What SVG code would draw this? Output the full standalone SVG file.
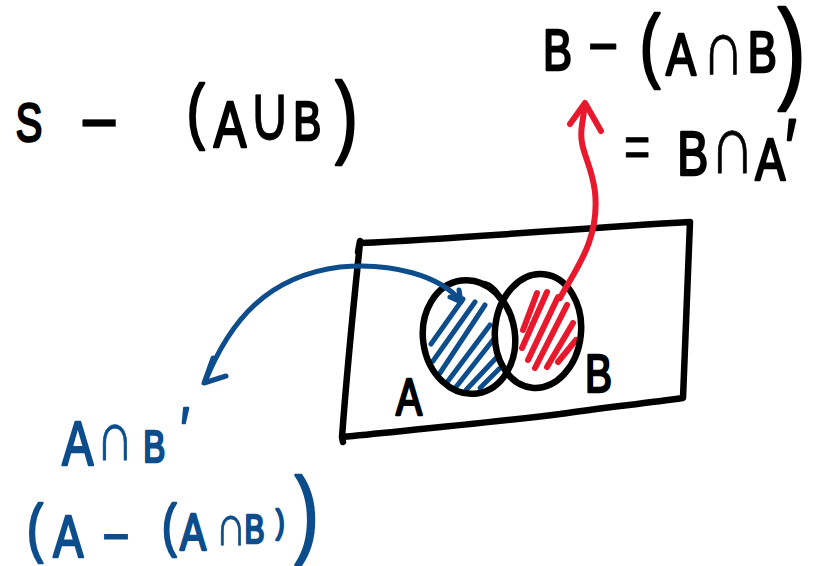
<svg xmlns="http://www.w3.org/2000/svg" width="828" height="566" viewBox="0 0 828 566">
<style>
.hw{font-family:"Liberation Sans","DejaVu Sans",sans-serif;stroke-width:2.6;stroke-linejoin:round}
.k{fill:#000;stroke:#000}
.bl{fill:#0d4d8c;stroke:#0d4d8c}
.op{stroke-width:0.8}
.ln{fill:none;stroke-linecap:round;stroke-linejoin:round}
.blk{stroke:#000;stroke-width:6.5}
.blu{stroke:#0d4d8c;stroke-width:5}
.red{stroke:#e8192c;stroke-width:6}
</style>
<rect width="828" height="566" fill="#fff"/>

<g id="universe">
<path class="ln blk" d="M360,243 C470,238 580,228 690,222 C688,280 685,340 683,398 C640,404 600,408 560,414 C480,424 410,430 342,437 C347,370 354,300 360,243 M358,252 L360,241 M342,437 L343,442"/>
</g>

<g id="setA">
<g class="ln blu">
<line x1="431" y1="344" x2="463" y2="299"/>
<line x1="433" y1="361" x2="475" y2="302"/>
<line x1="440" y1="373" x2="485" y2="305"/>
<line x1="448" y1="381" x2="490" y2="325"/>
<line x1="456" y1="387" x2="493" y2="340"/>
<line x1="466" y1="390" x2="497" y2="357"/>
<line x1="480" y1="388" x2="499" y2="369"/>
</g>
<ellipse class="ln blk" cx="469" cy="337" rx="46" ry="57" transform="rotate(-8 469 337)"/>
<path class="ln blk" d="M484,284 C492,286 496,292 500,298"/>
<text class="hw k" x="528" y="415" font-size="52" transform="scale(0.75 1)">A</text>
</g>

<g id="setB">
<g class="ln red">
<line x1="523" y1="330" x2="537" y2="293"/>
<line x1="522" y1="348" x2="547" y2="292"/>
<line x1="528" y1="360" x2="558" y2="297"/>
<line x1="535" y1="368" x2="567" y2="305"/>
<line x1="547" y1="367" x2="573" y2="323"/>
<line x1="558" y1="362" x2="576" y2="340"/>
</g>
<ellipse class="ln blk" cx="538" cy="331" rx="43" ry="57" transform="rotate(6 538 331)"/>
<text class="hw k" x="780" y="392" font-size="54" transform="scale(0.75 1)">B</text>
</g>

<g id="connectors">
<path class="ln blu" d="M205,382 C230,320 268,276 340,267 C392,262 440,276 461,301"/>
<path class="ln blu" d="M450,297 L461,302 L459,290"/>
<path class="ln blu" d="M213,358 L204,383 L226,376"/>
<path class="ln red" d="M560,298 C575,270 600,240 595,192 C591,160 578,150 582,125 L585,104"/>
<path class="ln red" d="M570,124 L585,103 L601,131"/>
</g>

<g id="label-complement">
<text class="hw k" transform="scale(0.75 1)"><tspan x="21" y="141" font-size="53">S</tspan><tspan x="106" y="153" font-size="90" stroke-width="0.5">−</tspan><tspan x="249" y="135" font-size="72">(</tspan><tspan x="285" y="147" font-size="65">A</tspan><tspan x="331" y="140" font-size="78" class="op">∪</tspan><tspan x="391" y="140" font-size="56">B</tspan><tspan x="447" y="146" font-size="90">)</tspan></text>
</g>

<g id="label-B-only">
<text class="hw k" transform="scale(0.75 1)"><tspan x="724" y="70" font-size="58">B</tspan><tspan x="784" y="70" font-size="70" stroke-width="1">−</tspan><tspan x="853" y="72" font-size="82">(</tspan><tspan x="888" y="75" font-size="60">A</tspan><tspan x="936" y="74" font-size="78" class="op">∩</tspan><tspan x="997" y="72" font-size="58">B</tspan><tspan x="1037" y="88" font-size="112">)</tspan></text>
<text class="hw k" transform="scale(0.75 1)"><tspan x="832" y="167" font-size="60" stroke-width="1">=</tspan><tspan x="903" y="175" font-size="62">B</tspan><tspan x="946" y="173" font-size="84" class="op">∩</tspan><tspan x="1007" y="180" font-size="60">A</tspan><tspan x="1047" y="175" font-size="80">′</tspan></text>
</g>

<g id="label-A-only">
<text class="hw bl" transform="scale(0.75 1)"><tspan x="83" y="465" font-size="62">A</tspan><tspan x="128" y="460" font-size="70" class="op">∩</tspan><tspan x="191" y="462" font-size="44">B</tspan><tspan x="241" y="449" font-size="60">′</tspan></text>
<text class="hw bl" transform="scale(0.75 1)"><tspan x="36" y="550" font-size="64">(</tspan><tspan x="71" y="557" font-size="60">A</tspan><tspan x="136" y="558" font-size="64" stroke-width="1">−</tspan><tspan x="216" y="545" font-size="58">(</tspan><tspan x="240" y="550" font-size="52">A</tspan><tspan x="287" y="545" font-size="58" class="op">∩</tspan><tspan x="326" y="543" font-size="40">B</tspan><tspan x="368" y="533" font-size="34">)</tspan><tspan x="393" y="545" font-size="96">)</tspan></text>
</g>
</svg>
